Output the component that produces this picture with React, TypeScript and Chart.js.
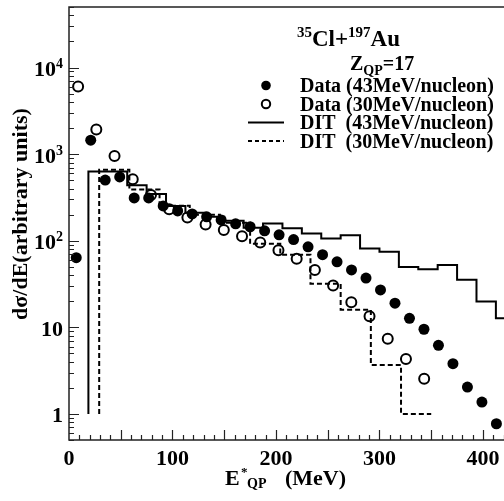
import React, { useEffect, useRef } from "react";
import { Chart, registerables } from "chart.js";
Chart.register(...registerables);

// ---- Data ----
const data43X = [7, 21, 35, 49, 63, 77, 91, 105, 119, 133, 147, 161, 175, 189, 203, 217, 231, 245, 259, 273, 287, 301, 315, 329, 343, 357, 371, 385, 399, 413];
const data43Y = [63.8, 1449, 502, 545, 312, 312, 252, 221, 204, 189, 174, 157, 145, 130, 117, 103, 85, 69, 57, 46, 37, 27, 19, 12.7, 9.5, 6.2, 3.8, 2.04, 1.37, 0.77];

const data30X = [8.8, 26.4, 44, 61.6, 79.2, 96.8, 114.4, 132, 149.6, 167.2, 184.8, 202.4, 220, 237.6, 255.2, 272.8, 290.4, 308, 325.6, 343.2];
const data30Y = [6050, 1923, 949, 512, 338, 231, 185, 154, 133, 113, 95.6, 77.4, 62, 46, 30.4, 19.5, 13.4, 7.4, 4.3, 2.55];

const dit43Edges = [18.75, 37.5, 56.25, 75, 93.75, 112.5, 131.25, 150, 168.75, 187.5, 206.25, 225, 243.75, 262.5, 281.25, 300, 318.75, 337.5, 356.25, 375, 393.75, 412.5, 431.25];
const dit43Values = [630, 630, 437, 347, 252, 211, 189, 170, 141, 158, 139, 121, 106, 116, 81.6, 74.7, 49.6, 47, 52.3, 35.4, 19.9, 12.7];

const dit30Edges = [29.17, 58.33, 87.5, 116.67, 145.83, 175, 204.17, 233.33, 262.5, 291.67, 320.83, 350];
const dit30Values = [660, 390, 253, 199, 161, 92, 69, 31.8, 16.0, 3.67, 1.0];

const histBase = 1;

const xTickValues = [0, 100, 200, 300, 400];
const xTickLabels = ["0", "100", "200", "300", "400"];
const yTickValues = [1, 10, 100, 1000, 10000];
const yTickBases = ["1", "10", "10", "10", "10"];
const yTickExps = ["", "", "2", "3", "4"];

const legendLabels = [
  "Data (43MeV/nucleon)",
  "Data (30MeV/nucleon)",
  "DIT  (43MeV/nucleon)",
  "DIT  (30MeV/nucleon)",
];

const FONT = '"Liberation Serif", "Times New Roman", serif';

function histPoints(edges: number[], values: number[]) {
  const pts: { x: number; y: number }[] = [{ x: edges[0], y: histBase }];
  values.forEach((v, i) => pts.push({ x: edges[i], y: v }));
  pts.push({ x: edges[edges.length - 1], y: values[values.length - 1] });
  return pts;
}

function f(size: number) {
  return `bold ${size}px ${FONT}`;
}

const decorPlugin = {
  id: "decor",
  afterDraw(chart: any) {
    const ctx: CanvasRenderingContext2D = chart.ctx;
    const { left, top, right, bottom } = chart.chartArea;
    const xs = chart.scales.x;
    const ys = chart.scales.y;
    ctx.save();
    ctx.strokeStyle = "#222";
    ctx.fillStyle = "#000";
    ctx.lineWidth = 1.5;
    // frame
    ctx.beginPath();
    ctx.moveTo(right + 20, top);
    ctx.lineTo(left, top);
    ctx.lineTo(left, bottom);
    ctx.lineTo(right + 20, bottom);
    ctx.stroke();

    // y ticks (inward)
    ctx.lineWidth = 1.2;
    ctx.beginPath();
    for (let d = -1; d <= 4; d++) {
      for (let m = 1; m <= 9; m++) {
        const v = m * Math.pow(10, d);
        if (v < ys.min || v > ys.max) continue;
        const py = Math.round(ys.getPixelForValue(v)) + 0.5;
        const len = m === 1 ? 10 : 5;
        ctx.moveTo(left, py);
        ctx.lineTo(left + len, py);
      }
    }
    // x ticks (inward)
    for (let v = 10; v <= xs.max; v += 10) {
      const px = Math.round(xs.getPixelForValue(v)) + 0.5;
      const len = v % 50 === 0 ? 10 : 5;
      ctx.moveTo(px, bottom);
      ctx.lineTo(px, bottom - len);
    }
    ctx.stroke();

    // x tick labels
    ctx.font = f(22);
    ctx.textAlign = "center";
    ctx.textBaseline = "alphabetic";
    xTickValues.forEach((v, i) => {
      ctx.fillText(xTickLabels[i], xs.getPixelForValue(v), bottom + 25);
    });

    // y tick labels
    yTickValues.forEach((v, i) => {
      const py = ys.getPixelForValue(v);
      const base = yTickBases[i];
      const exp = yTickExps[i];
      const rightEdge = left - 6;
      ctx.textAlign = "left";
      ctx.font = f(14);
      const ew = exp ? ctx.measureText(exp).width : 0;
      ctx.font = f(22);
      const bw = ctx.measureText(base).width;
      const x0 = rightEdge - bw - ew;
      ctx.fillText(base, x0, py + 8.5);
      if (exp) {
        ctx.font = f(14);
        ctx.fillText(exp, x0 + bw, py + 0.5);
      }
    });

    // x axis title: E*_QP (MeV)
    ctx.textAlign = "left";
    ctx.font = f(22);
    ctx.fillText("E", 225, 485);
    ctx.font = f(13);
    ctx.fillText("*", 241, 476);
    ctx.font = f(14);
    ctx.fillText("QP", 247, 488);
    ctx.font = f(22);
    ctx.fillText("(MeV)", 285, 485);

    // y axis title
    ctx.save();
    ctx.translate(27, 214);
    ctx.rotate(-Math.PI / 2);
    ctx.textAlign = "center";
    ctx.font = f(22);
    ctx.fillText("d\u03c3/dE(arbitrary units)", 0, 0);
    ctx.restore();

    // reaction title
    ctx.textAlign = "left";
    let x = 297;
    ctx.font = f(15);
    ctx.fillText("35", x, 37);
    x += ctx.measureText("35").width;
    ctx.font = f(23);
    ctx.fillText("Cl+", x, 46);
    x += ctx.measureText("Cl+").width;
    ctx.font = f(15);
    ctx.fillText("197", x, 37);
    x += ctx.measureText("197").width;
    ctx.font = f(23);
    ctx.fillText("Au", x, 46);

    x = 350;
    ctx.font = f(20);
    ctx.fillText("Z", x, 70);
    x += ctx.measureText("Z").width;
    ctx.font = f(14);
    ctx.fillText("QP", x, 75);
    x += ctx.measureText("QP").width;
    ctx.font = f(20);
    ctx.fillText("=17", x, 70);

    // legend
    const rowY = [85.5, 104, 122.5, 141];
    ctx.font = f(20);
    legendLabels.forEach((t, i) => {
      ctx.fillText(t, 300, rowY[i] + 6.5);
    });
    // symbols
    ctx.beginPath();
    ctx.arc(266, rowY[0], 4.8, 0, Math.PI * 2);
    ctx.fill();
    ctx.lineWidth = 2;
    ctx.strokeStyle = "#000";
    ctx.beginPath();
    ctx.arc(266, rowY[1], 4.2, 0, Math.PI * 2);
    ctx.stroke();
    ctx.beginPath();
    ctx.moveTo(248, rowY[2]);
    ctx.lineTo(284, rowY[2]);
    ctx.stroke();
    ctx.setLineDash([4, 3]);
    ctx.beginPath();
    ctx.moveTo(248, rowY[3]);
    ctx.lineTo(284, rowY[3]);
    ctx.stroke();
    ctx.setLineDash([]);
    ctx.restore();
  },
};

export default function App() {
  const ref = useRef<HTMLCanvasElement | null>(null);
  useEffect(() => {
    if (!ref.current) return;
    const chart = new Chart(ref.current, {
      type: "line",
      data: {
        datasets: [
          {
            label: legendLabels[0],
            data: data43X.map((x, i) => ({ x, y: data43Y[i] })),
            showLine: false,
            pointStyle: "circle",
            pointRadius: 5.5,
            pointBackgroundColor: "#000",
            pointBorderColor: "#000",
            pointBorderWidth: 0,
          },
          {
            label: legendLabels[1],
            data: data30X.map((x, i) => ({ x, y: data30Y[i] })),
            showLine: false,
            pointStyle: "circle",
            pointRadius: 5,
            pointBackgroundColor: "rgba(0,0,0,0)",
            pointBorderColor: "#000",
            pointBorderWidth: 2,
          },
          {
            label: legendLabels[2],
            data: histPoints(dit43Edges, dit43Values),
            stepped: "before",
            borderColor: "#000",
            borderWidth: 2,
            pointRadius: 0,
            fill: false,
          },
          {
            label: legendLabels[3],
            data: histPoints(dit30Edges, dit30Values),
            stepped: "before",
            borderColor: "#000",
            borderWidth: 2,
            borderDash: [5, 3],
            pointRadius: 0,
            fill: false,
          },
        ],
      } as any,
      options: {
        animation: false,
        responsive: false,
        devicePixelRatio: 1,
        events: [],
        layout: { padding: { left: 69, top: 4, right: 16, bottom: 61 } },
        plugins: { legend: { display: false }, tooltip: { enabled: false } },
        scales: {
          x: { type: "linear", min: 0, max: 430, display: false },
          y: { type: "logarithmic", min: 0.5, max: 50000, display: false },
        },
      } as any,
      plugins: [decorPlugin],
    });
    return () => chart.destroy();
  }, []);
  return (
    <div
      style={{
        position: "absolute",
        left: 0,
        top: 0,
        width: 504,
        height: 501,
        overflow: "hidden",
        background: "#fff",
      }}
    >
      <canvas ref={ref} width={530} height={501} style={{ width: 530, height: 501, display: "block" }} />
    </div>
  );
}
